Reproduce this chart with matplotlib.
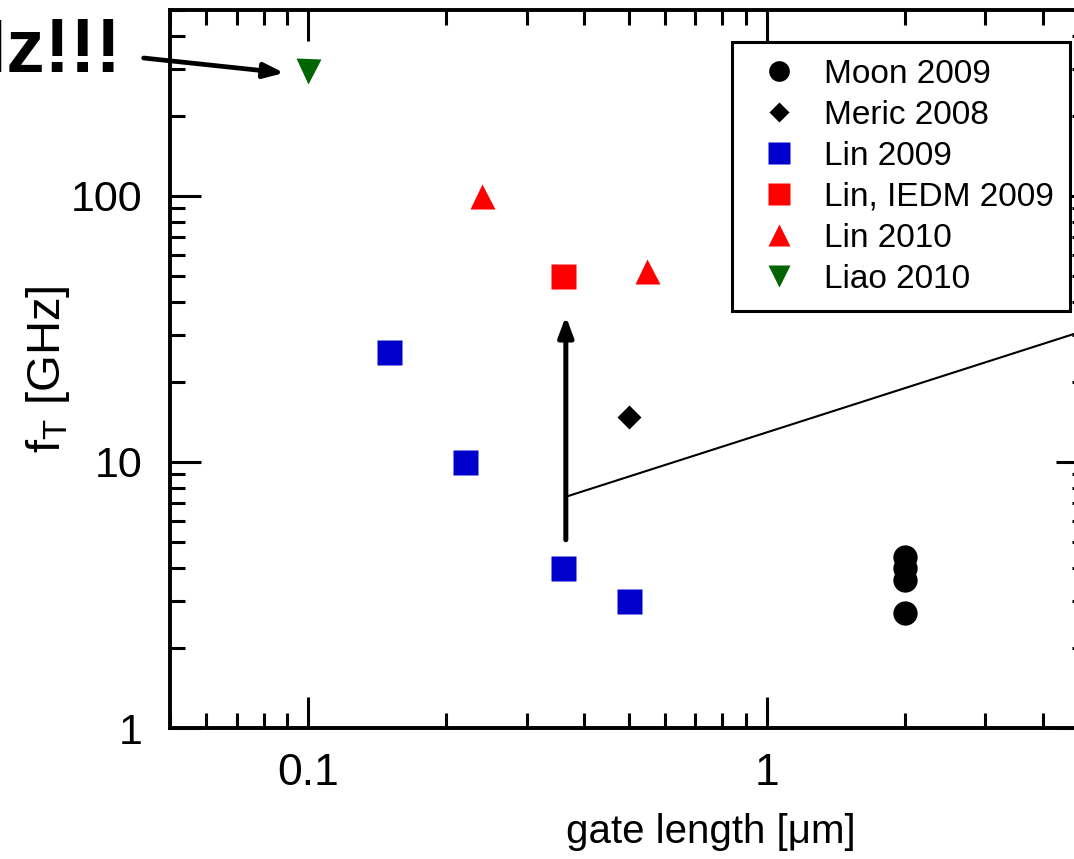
import matplotlib
matplotlib.use("Agg")
import matplotlib.pyplot as plt

# ------------------------------------------------------------
# data (gate length in um, fT in GHz)
# ------------------------------------------------------------
moon_x = [2.0, 2.0, 2.0, 2.0]
moon_y = [4.4, 4.0, 3.6, 2.7]
meric_x = [0.5]
meric_y = [14.8]
lin09_x = [0.15, 0.22, 0.36, 0.5]
lin09_y = [26, 10, 4.0, 3.0]
lin_iedm_x = [0.36]
lin_iedm_y = [50]
lin10_x = [0.24, 0.55]
lin10_y = [100, 52]
liao_x = [0.1]
liao_y = [295]

# annotation anchors (data coords)
arrow_x = 0.365
arrow_y0, arrow_y1 = 5.1, 35.3
line_x1, line_y1 = 5.0, 31.4
callout_start = (0.0438, 330)
callout_tip = (0.0887, 290)

plt.rcParams['font.family'] = ['Liberation Sans', 'DejaVu Sans']
plt.rcParams['mathtext.fontset'] = 'custom'
plt.rcParams['mathtext.rm'] = 'Liberation Sans'

W, H = 1074, 859
fig = plt.figure(figsize=(W / 100, H / 100), dpi=100)
ax = fig.add_axes([170 / W, (H - 728) / H, 917 / W, 718 / H])

ax.plot(moon_x, moon_y, 'o', color='black', ms=17.5, mec='none', label='Moon 2009')
ax.plot(meric_x, meric_y, 'D', color='black', ms=12.5, mec='none', label='Meric 2008')
ax.plot(lin09_x, lin09_y, 's', color='#0000cc', ms=18, mec='none', label='Lin 2009')
ax.plot(lin_iedm_x, lin_iedm_y, 's', color='#ff0000', ms=18, mec='none', label='Lin, IEDM 2009')
ax.plot(lin10_x, lin10_y, '^', color='#ff0000', ms=18, mec='none', label='Lin 2010')
ax.plot(liao_x, liao_y, 'v', color='#006400', ms=18, mec='none', label='Liao 2010')

ax.set_xscale('log')
ax.set_yscale('log')
ax.set_xlim(0.05, 5)
ax.set_ylim(1, 500)

for s in ax.spines.values():
    s.set_linewidth(2.8)
ax.tick_params(which='both', direction='in', top=True, right=True, width=2.2)
ax.tick_params(which='major', length=22)
ax.tick_params(which='minor', length=11)
ax.tick_params(axis='y', which='major', labelsize=31, pad=20)
ax.tick_params(axis='x', which='major', labelsize=32, pad=18)
ax.set_xticks([0.1, 1])
ax.set_xticklabels(['0.1', '1'])
ax.set_yticks([1, 10, 100])
ax.set_yticklabels(['1', '10', '100'])
ax.xaxis.set_minor_formatter(plt.NullFormatter())
ax.yaxis.set_minor_formatter(plt.NullFormatter())

ax.set_xlabel('gate length [μm]', fontsize=29)
ax.xaxis.set_label_coords(0.59, -0.118)
ax.set_ylabel(r'f$_{\rm T}$ [GHz]', fontsize=34)
ax.yaxis.set_label_coords(-0.107, 0.5)

# vertical arrow and thin callout line
ax.annotate('', xy=(arrow_x, arrow_y1), xytext=(arrow_x, arrow_y0),
            arrowprops=dict(arrowstyle='-|>,head_length=1.2,head_width=0.45',
                            color='black', lw=3.6, shrinkA=0, shrinkB=0))
ax.plot([arrow_x, line_x1], [7.4, line_y1], color='black', lw=1.5, clip_on=False)

# callout to the Liao point
ax.annotate('', xy=callout_tip, xytext=callout_start, annotation_clip=False,
            arrowprops=dict(arrowstyle='-|>,head_length=1.2,head_width=0.45',
                            color='black', lw=3.4, shrinkA=0, shrinkB=0))
fig.text(121 / W, 1 - 72 / H, '300 GHz!!!', fontsize=55, fontweight='bold',
         ha='right', va='baseline')

leg = ax.legend(loc='upper left', bbox_to_anchor=(732 / W, 1 - 42 / H),
                bbox_transform=fig.transFigure, fontsize=24, frameon=True,
                fancybox=False, framealpha=1, edgecolor='black',
                borderpad=0.5, handlelength=1.8, handletextpad=0.45,
                labelspacing=0.3, markerscale=0.85, borderaxespad=0)
leg.get_frame().set_linewidth(2.2)

fig.savefig('out.png', dpi=100)
